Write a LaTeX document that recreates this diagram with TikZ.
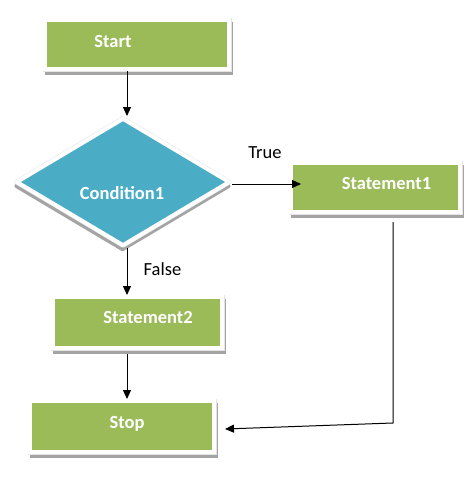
\documentclass[tikz,border=0pt]{standalone}
\usepackage{fontspec}
\setmainfont{Carlito}
\usetikzlibrary{arrows.meta,shapes.geometric}
\definecolor{boxgreen}{HTML}{9BBB59}
\definecolor{condblue}{HTML}{4BACC6}
\definecolor{shadowgray}{HTML}{A4A4A4}
\definecolor{rimgray}{HTML}{E4E4E4}
\tikzset{
  boxshadow/.style={preaction={fill=shadowgray, draw=shadowgray, line width=4pt, transform canvas={xshift=#1}},
                    preaction={draw=rimgray, line width=5pt}},
  flowbox/.style={rectangle, fill=boxgreen, draw=white, line width=4pt, inner sep=0pt,
                  preaction={fill=shadowgray, draw=shadowgray, line width=4pt, transform canvas={xshift=2pt,yshift=-4pt}},
                  preaction={draw=rimgray, line width=5pt}},
  condshape/.style={diamond, fill=condblue, draw=white, line width=4pt, line join=round, inner sep=0pt,
                  preaction={fill=shadowgray, draw=shadowgray, line width=4pt, transform canvas={xshift=-0.5pt,yshift=-4pt}},
                  preaction={draw=rimgray, line width=5pt}},
  boxtext/.style={text=white, font=\fontsize{18.5}{20}\selectfont\bfseries, inner sep=0pt, anchor=base},
  lbl/.style={font=\fontsize{18.5}{20}\selectfont, inner sep=0pt, anchor=base},
  arr/.style={-{Triangle[length=9pt,width=8pt]}, line width=1pt, black},
}
\begin{document}
\begin{tikzpicture}[x=1pt,y=-1pt]
\useasboundingbox (0,0) rectangle (474,482);
% boxes
\node[flowbox, minimum width=184pt, minimum height=49pt] (start) at (137,44.5) {};
\node[condshape, minimum width=214pt, minimum height=128pt] (cond) at (123,182) {};
\node[flowbox, minimum width=169pt, minimum height=49pt] (s1) at (375.5,187.5) {};
\node[flowbox, minimum width=169pt, minimum height=51pt] (s2) at (137.5,322.5) {};
\node[flowbox, minimum width=184pt, minimum height=51pt] (stop) at (122,426.5) {};
% texts
\node[boxtext] (starttxt) at (113,47) {Start};
\node[boxtext] (condtxt) at (122,199) {Condition1};
\node[boxtext] (s1txt) at (386.5,189) {Statement1};
\node[boxtext] (s2txt) at (148,323) {Statement2};
\node[boxtext] (stoptxt) at (127,428) {Stop};
\node[lbl] (truelbl) at (265,158) {True};
\node[lbl] (falselbl) at (162.5,275) {False};
% connectors
\draw[arr] ([xshift=-10pt]start.south) -- ([xshift=-10pt]start.south |- cond.north);
\draw[arr] ([yshift=-2pt]cond.east) -- ([xshift=12pt,yshift=-2pt]cond.east -| s1.west);
\draw[arr] ([xshift=4pt]cond.south) -- ([xshift=4pt]cond.south |- s2.north);
\draw[arr, shorten <=4pt] ([xshift=-10.5pt]s2.south) -- ([xshift=-10.5pt]s2.south |- stop.north);
\coordinate (bend) at (393,423);
\draw[arr, shorten <=8pt] (s1.south -| bend) -- (bend) -- ([xshift=9pt,yshift=-2.5pt]stop.east);
\end{tikzpicture}
\end{document}
